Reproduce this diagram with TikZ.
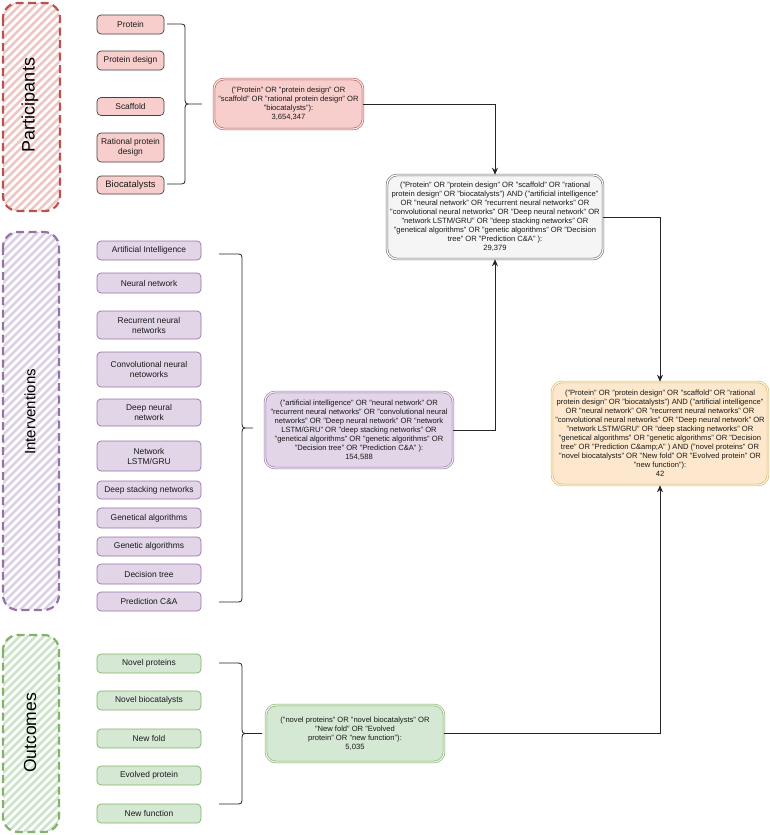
\documentclass[tikz,border=0pt]{standalone}
\usepackage{fontspec}
\setmainfont{Liberation Sans}
\usetikzlibrary{arrows.meta}
\definecolor{partfill}{HTML}{F8CECC}
\definecolor{partline}{HTML}{B85450}
\definecolor{parthatch}{HTML}{EEC6C4}
\definecolor{partbox}{HTML}{4A3F3F}
\definecolor{intfill}{HTML}{E1D5E7}
\definecolor{intline}{HTML}{9673A6}
\definecolor{inthatch}{HTML}{DCD0E4}
\definecolor{outfill}{HTML}{D5E8D4}
\definecolor{outline}{HTML}{82B366}
\definecolor{outhatch}{HTML}{CDE3CA}
\definecolor{allfill}{HTML}{F5F5F5}
\definecolor{allline}{HTML}{666666}
\definecolor{finfill}{HTML}{FDE8CD}
\definecolor{finline}{HTML}{D6B656}
\tikzset{
  term/.style={rounded corners=4pt, draw, line width=0.7pt, inner sep=0pt, align=center,
    text=black!90, font=\fontsize{8.4}{10}\selectfont},
  partterm/.style={term, fill=partfill, draw=partbox, minimum width=67pt},
  intterm/.style={term, fill=intfill, draw=intline, minimum width=104pt},
  outterm/.style={term, fill=outfill, draw=outline, minimum width=104pt},
  query/.style={rounded corners=10pt, line width=0.6pt, double distance=1.2pt, inner sep=0pt,
    align=center, text=black!90, font=\fontsize{7.6}{9}\selectfont},
  lane/.style={rounded corners=15pt, line width=2.2pt, dash pattern=on 8pt off 4.5pt},
  lanelabel/.style={rotate=90, text=black},
  flow/.style={-{Stealth[length=7pt,width=6pt]}, line width=0.8pt, draw=black!85},
  bracket/.style={line width=0.8pt, draw=black!85}
}
% curly bracket: x start, x spine, x tip, y top, y bottom
\newcommand{\curly}[5]{%
  \draw[bracket] (#1,#4) -- ({#2-7},#4) .. controls (#2,#4) .. (#2,{#4+7})
    -- (#2,{(#4+#5)/2-8}) .. controls (#2,{(#4+#5)/2}) .. ({#2+6},{(#4+#5)/2}) -- (#3,{(#4+#5)/2})
    -- ({#2+6},{(#4+#5)/2}) .. controls (#2,{(#4+#5)/2}) .. (#2,{(#4+#5)/2+8})
    -- (#2,{#5-7}) .. controls (#2,#5) .. ({#2-7},#5) -- (#1,#5);
}
\begin{document}
\begin{tikzpicture}[x=1pt, y=-1pt]
    \useasboundingbox (0,0) rectangle (770,835);
    % lanes
    \begin{scope}
        \clip[rounded corners=15pt] (3,3) rectangle (60,211);
        \foreach \i in {-210,-202,...,60} \draw[line width=2.6pt, parthatch] (\i,211) -- ++(260,-260);
    \end{scope}
    \draw[lane, partline] (3,3) rectangle (60,211);
    \node[lanelabel, font=\fontsize{18}{20}\selectfont] (lpart) at (30,105) {Participants};
    \begin{scope}
        \clip[rounded corners=15pt] (3,232) rectangle (59,610);
        \foreach \i in {-380,-372,...,60} \draw[line width=2.6pt, inthatch] (\i,610) -- ++(450,-450);
    \end{scope}
    \draw[lane, intline] (3,232) rectangle (59,610);
    \node[lanelabel, font=\fontsize{15}{17}\selectfont] (lint) at (30,412) {Interventions};
    \begin{scope}
        \clip[rounded corners=15pt] (3,635) rectangle (59,832);
        \foreach \i in {-200,-192,...,60} \draw[line width=2.6pt, outhatch] (\i,832) -- ++(260,-260);
    \end{scope}
    \draw[lane, outline] (3,635) rectangle (59,832);
    \node[lanelabel, font=\fontsize{17.5}{19}\selectfont] (lout) at (30,733) {Outcomes};
    % participants
    \node[partterm, minimum height=19pt] (pro) at (130.5,24.5) {Protein};
    \node[partterm, minimum height=19pt] (prodes) at (130.5,60.5) {Protein design};
    \node[partterm, minimum height=18pt] (scaf) at (130.5,106.5) {Scaffold};
    \node[partterm, minimum height=29pt] (ratpro) at (130.5,147.5) {Rational protein\\design};
    \node[partterm, minimum height=18pt, font=\fontsize{9.4}{11}\selectfont] (bioc) at (130.5,185) {Biocatalysts};
    \curly{167}{185}{202}{24}{184}
    % interventions
    \node[intterm, minimum height=19pt] (ai) at (149,250.5) {Artificial Intelligence};
    \node[intterm, minimum height=20pt] (nn) at (149,283) {Neural network};
    \node[intterm, minimum height=28pt] (rnn) at (149,325) {Recurrent neural\\networks};
    \node[intterm, minimum height=35pt] (cnn) at (149,369.5) {Convolutional neural\\netoworks};
    \node[intterm, minimum height=27pt] (dnn) at (149,412.5) {Deep neural\\network};
    \node[intterm, minimum height=30pt] (lstm) at (149,456) {Network\\LSTM/GRU};
    \node[intterm, minimum height=18pt] (dsn) at (149,490) {Deep stacking networks};
    \node[intterm, minimum height=20pt] (gal) at (149,518) {Genetical algorithms};
    \node[intterm, minimum height=19pt] (gen) at (149,546.5) {Genetic algorithms};
    \node[intterm, minimum height=20pt] (dt) at (149,574) {Decision tree};
    \node[intterm, minimum height=19pt] (pca) at (149,601.5) {Prediction C\&A};
    \curly{219}{242}{253}{254}{602}
    % outcomes
    \node[outterm, minimum height=19pt] (np) at (149,663.5) {Novel proteins};
    \node[outterm, minimum height=19pt] (nb) at (149,700.5) {Novel biocatalysts};
    \node[outterm, minimum height=19pt] (nf) at (149,738.5) {New fold};
    \node[outterm, minimum height=19pt] (ep) at (149,775.5) {Evolved protein};
    \node[outterm, minimum height=19pt] (nfu) at (149,813.5) {New function};
    \curly{219}{242}{262}{663}{804}
    % queries
    \node[query, draw=partline, double=partfill!50, fill=partfill, minimum width=149pt, minimum height=50pt] (qpart) at (288.5,104)
        {("Protein" OR "protein design" OR\\"scaffold" OR "rational protein design" OR\\"biocatalysts"):\\3,654,347};
    \node[query, draw=allline, double=white, fill=allfill, minimum width=216pt, minimum height=84pt] (qall) at (495,217)
        {("Protein" OR "protein design" OR "scaffold" OR "rational\\protein design" OR "biocatalysts") AND ("artificial intelligence"\\OR "neural network" OR "recurrent neural networks" OR\\"convolutional neural networks" OR "Deep neural network" OR\\"network LSTM/GRU" OR "deep stacking networks" OR\\"genetical algorithms" OR "genetic algorithms" OR "Decision\\tree" OR "Prediction C\&A" ):\\29,379};
    \node[query, draw=intline, double=intfill!50, fill=intfill, minimum width=188pt, minimum height=76pt] (qint) at (359,430)
        {("artificial intelligence" OR "neural network" OR\\"recurrent neural networks" OR "convolutional neural\\networks" OR "Deep neural network" OR "network\\LSTM/GRU" OR "deep stacking networks" OR\\"genetical algorithms" OR "genetic algorithms" OR\\"Decision tree" OR "Prediction C\&A" ):\\154,588};
    \node[query, draw=finline, double=finfill!50, fill=finfill, minimum width=216pt, minimum height=103pt] (qfin) at (660,433.5)
        {("Protein" OR "protein design" OR "scaffold" OR "rational\\protein design" OR "biocatalysts") AND ("artificial intelligence"\\OR "neural network" OR "recurrent neural networks" OR\\"convolutional neural networks" OR "Deep neural network" OR\\"network LSTM/GRU" OR "deep stacking networks" OR\\"genetical algorithms" OR "genetic algorithms" OR "Decision\\tree" OR "Prediction C\&amp;A" ) AND ("novel proteins" OR\\"novel biocatalysts" OR "New fold" OR "Evolved protein" OR\\"new function"):\\42};
    \node[query, draw=outline, double=outfill!50, fill=outfill, minimum width=178pt, minimum height=57pt] (qout) at (355,733.5)
        {("novel proteins" OR "novel biocatalysts" OR\\"New fold" OR "Evolved\\protein" OR "new function"):\\5,035};
    % flows
    \draw[flow] (qpart.east) -| (qall.north);
    \draw[flow] (qint.east) -| (qall.south);
    \draw[flow] (qall.east) -| (qfin.north);
    \draw[flow] (qout.east) -| (qfin.south);
\end{tikzpicture}
\end{document}
